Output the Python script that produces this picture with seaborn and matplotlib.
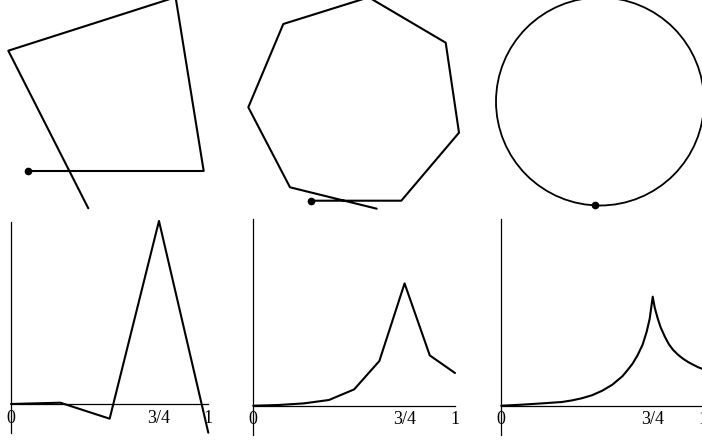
import numpy as np
import pandas as pd
import matplotlib
matplotlib.use("Agg")
import matplotlib.pyplot as plt
import seaborn as sns
from matplotlib.patches import Circle

# top row: turtle walks (panel-local units, y up)
walk4_x = [27.7, 203.7, 175.6, 8.3, 88.3]
walk4_y = [44.0, 44.0, 217.8, 164.3, 6.7]

walk8_x = [76.7, 167.3, 225.0, 211.7, 134.7, 49.3, 14.3, 56.0, 142.7]
walk8_y = [14.3, 14.3, 82.3, 172.3, 217.7, 191.0, 107.7, 27.7, 6.3]

circle_center = (132.0, 113.5)
circle_radius = 104.0
circle_start = (127.0, 9.6)

# bottom row: functions on [0, 1]
f4_x = [0, 0.25, 0.5, 0.75, 1.0]
f4_y = [0, 1.3, -14.7, 183.0, -28.7]

f8_x = [0, 0.125, 0.25, 0.375, 0.5, 0.625, 0.75, 0.875, 1.0]
f8_y = [0, 0.7, 2.3, 5.7, 16.3, 44.7, 122.3, 50.3, 32.7]

fs_x = [0, 0.1, 0.2, 0.3, 0.35, 0.4, 0.45, 0.5, 0.55, 0.6, 0.625, 0.65, 0.675,
        0.7, 0.72, 0.735, 0.75, 0.76, 0.775, 0.79, 0.81, 0.83, 0.85, 0.875,
        0.9, 0.925, 0.95, 0.975, 1.0]
fs_y = [0, 1.0, 2.3, 3.7, 5.3, 7.5, 10.5, 15.0, 21.0, 29.5, 35.5, 42.0, 50.5,
        61.0, 74.0, 87.0, 109.0, 98.0, 87.0, 78.0, 69.0, 61.5, 56.0, 51.0,
        47.0, 43.7, 41.0, 38.5, 36.5]

tick_pos = [0, 0.75, 1]
tick_labels = ["0", "3/4", "1"]

sns.set_style("white")
plt.rcParams["font.family"] = ["Liberation Serif", "DejaVu Serif"]

W, H = 702, 441
fig = plt.figure(figsize=(W / 100, H / 100), dpi=100)


def px_axes(left, top, width, height):
    return fig.add_axes([left / W, (H - top - height) / H, width / W, height / H])


# top row
top_axes = [px_axes(c * 234, 0, 234, 215) for c in range(3)]
for ax in top_axes:
    ax.set_xlim(0, 234)
    ax.set_ylim(0, 215)
    ax.axis("off")

walks = [(walk4_x, walk4_y), (walk8_x, walk8_y)]
for ax, (wx, wy) in zip(top_axes[:2], walks):
    df = pd.DataFrame({"x": wx, "y": wy})
    sns.lineplot(data=df, x="x", y="y", sort=False, estimator=None,
                 color="black", linewidth=1.5, ax=ax)
    ax.plot(wx[0], wy[0], "o", color="black", markersize=4.5)

ax = top_axes[2]
ax.add_patch(Circle(circle_center, circle_radius, fill=False,
                    edgecolor="black", linewidth=1.3))
ax.plot(circle_start[0], circle_start[1], "o", color="black", markersize=4.5)

# bottom row
bottom_specs = [
    ((11, 221.7, 197.3, 211.3), (-29.0, 182.3), f4_x, f4_y),
    ((253.3, 219.3, 201.7, 215.7), (-29.3, 186.4), f8_x, f8_y),
    ((501.3, 219.3, 201.9, 215.7), (-29.3, 186.4), fs_x, fs_y),
]
for (box, ylim, fx, fy) in bottom_specs:
    ax = px_axes(*box)
    ax.set_facecolor("none")
    df = pd.DataFrame({"x": fx, "y": fy})
    sns.lineplot(data=df, x="x", y="y", sort=False, estimator=None,
                 color="black", linewidth=1.5, ax=ax)
    ax.set_xlim(0, 1)
    ax.set_ylim(*ylim)
    for ln in ax.lines:
        ln.set_clip_on(False)
    ax.spines["top"].set_visible(False)
    ax.spines["right"].set_visible(False)
    ax.spines["left"].set_position(("data", 0))
    ax.spines["bottom"].set_position(("data", 0))
    for s in ("left", "bottom"):
        ax.spines[s].set_color("black")
        ax.spines[s].set_linewidth(0.9)
    ax.set_xticks(tick_pos)
    ax.set_xticklabels(tick_labels)
    ax.set_yticks([])
    ax.tick_params(axis="x", length=0, pad=4, labelsize=13, colors="black")
    ax.set_xlabel("")
    ax.set_ylabel("")

fig.savefig("out.png", dpi=100)
